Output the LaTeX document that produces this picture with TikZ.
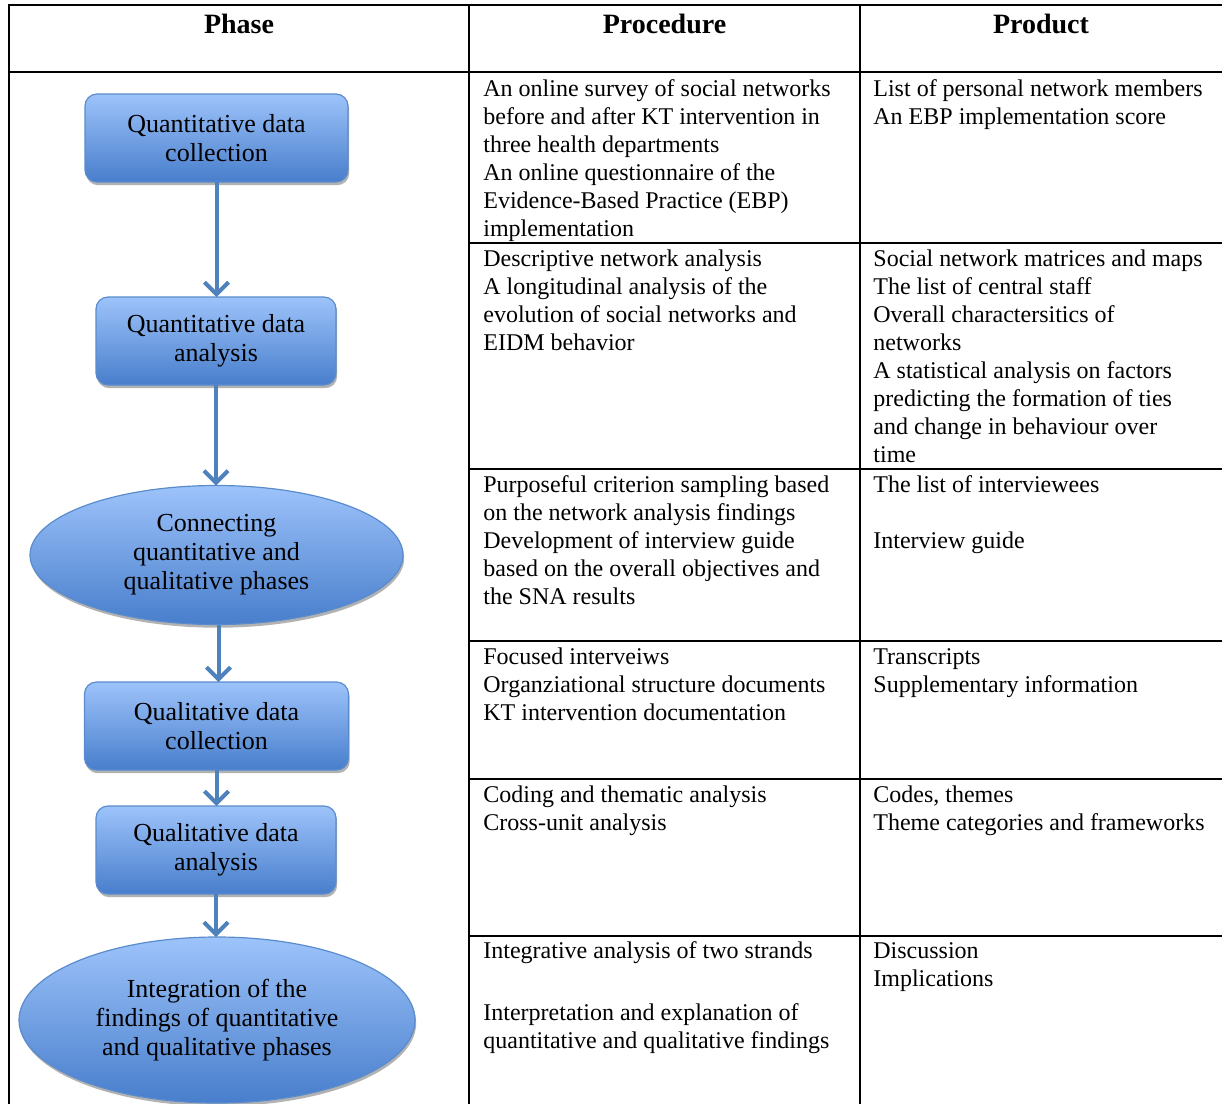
\documentclass[tikz,border=0pt]{standalone}
\usepackage{fontspec}
\setmainfont{Liberation Serif}
\usetikzlibrary{shapes.geometric,shadows,arrows.meta}
\definecolor{boxtop}{RGB}{157,195,250}
\definecolor{boxbot}{RGB}{72,126,204}
\definecolor{boxline}{RGB}{90,140,205}
\definecolor{arrowblue}{RGB}{79,129,189}
\begin{document}
\begin{tikzpicture}[x=0.5pt,y=-0.5pt,
  phasebase/.style={draw=boxline, line width=0.6pt, top color=boxtop, bottom color=boxbot,
    align=center, inner sep=0pt, outer sep=0pt, font=\fontsize{13}{14.5}\selectfont,
    drop shadow={shadow xshift=0.6pt, shadow yshift=-1.6pt, fill=black, opacity=0.3}},
  phasebox/.style={phasebase, rectangle, rounded corners=6pt, minimum height=44pt},
  phaseell/.style={phasebase, ellipse},
  flow/.style={draw=arrowblue, line width=2pt, -{Straight Barb[length=6pt,width=12pt]}},
  gridline/.style={line width=1.2pt},
  cell/.style={anchor=north west, align=left, inner sep=0pt, font=\fontsize{12}{14}\selectfont},
  head/.style={anchor=base, inner sep=0pt, font=\bfseries\fontsize{14}{16}\selectfont}]
\useasboundingbox (0,0) rectangle (1222,1104);

% table grid
\draw[gridline] (9,1104) -- (9,5) -- (1222,5);
\draw[gridline] (9,72) -- (1222,72);
\draw[gridline] (469,5) -- (469,1104);
\draw[gridline] (860,5) -- (860,1104);
\foreach \yy in {243,469,641,779,936}
  \draw[gridline] (469,\yy) -- (1222,\yy);

% headers
\node[head] (hphase) at (239,33) {Phase};
\node[head] (hproc) at (664.5,33) {Procedure};
\node[head] (hprod) at (1041,33) {Product};

% phase flow
\node[phasebox, minimum width=131.5pt] (b1) at (216.5,138) {Quantitative data\\collection};
\node[phasebox, minimum width=120pt] (b2) at (216,341) {Quantitative data\\analysis};
\node[phaseell, minimum width=186.5pt, minimum height=69.5pt] (e1) at (216.5,555) {Connecting\\quantitative and\\qualitative phases};
\node[phasebox, minimum width=132pt] (b3) at (216.5,726) {Qualitative data\\collection};
\node[phasebox, minimum width=120pt] (b4) at (216,850) {Qualitative data\\analysis};
\node[phaseell, minimum width=198pt, minimum height=83pt] (e2) at (217,1020) {Integration of the\\findings of quantitative\\and qualitative phases};

\draw[flow] (b1.south) -- (b1.south |- b2.north);
\draw[flow] (b2.south) -- (b2.south |- e1.north);
\draw[flow] ([xshift=1pt]e1.south) -- ([xshift=1pt]e1.south |- b3.north);
\draw[flow] (b3.south) -- (b3.south |- b4.north);
\draw[flow] (b4.south) -- (b4.south |- e2.north);

% procedure column (top of node = first baseline - strut height)
\node[cell] (p1) at (483,76.4) {\strut An online survey of social networks\\before and after KT intervention in\\three health departments\\An online questionnaire of the\\Evidence-Based Practice (EBP)\\implementation};
\node[cell] (p2) at (483,246.4) {\strut Descriptive network analysis\\A longitudinal analysis of the\\evolution of social networks and\\EIDM behavior};
\node[cell] (p3) at (483,472.4) {\strut Purposeful criterion sampling based\\on the network analysis findings\\Development of interview guide\\based on the overall objectives and\\the SNA results};
\node[cell] (p4) at (483,644.4) {\strut Focused interveiws\\Organziational structure documents\\KT intervention documentation};
\node[cell] (p5) at (483,782.4) {\strut Coding and thematic analysis\\Cross-unit analysis};
\node[cell] (p6) at (483,938.4) {\strut Integrative analysis of two strands\\[17pt]Interpretation and explanation of\\quantitative and qualitative findings};

% product column
\node[cell] (q1) at (873,76.4) {\strut List of personal network members\\An EBP implementation score};
\node[cell] (q2) at (873,246.4) {\strut Social network matrices and maps\\The list of central staff\\Overall charactersitics of\\networks\\A statistical analysis on factors\\predicting the formation of ties\\and change in behaviour over\\time};
\node[cell] (q3) at (873,472.4) {\strut The list of interviewees\\[14pt]Interview guide};
\node[cell] (q4) at (873,644.4) {\strut Transcripts\\Supplementary information};
\node[cell] (q5) at (873,782.4) {\strut Codes, themes\\Theme categories and frameworks};
\node[cell] (q6) at (873,938.4) {\strut Discussion\\Implications};
\end{tikzpicture}
\end{document}
